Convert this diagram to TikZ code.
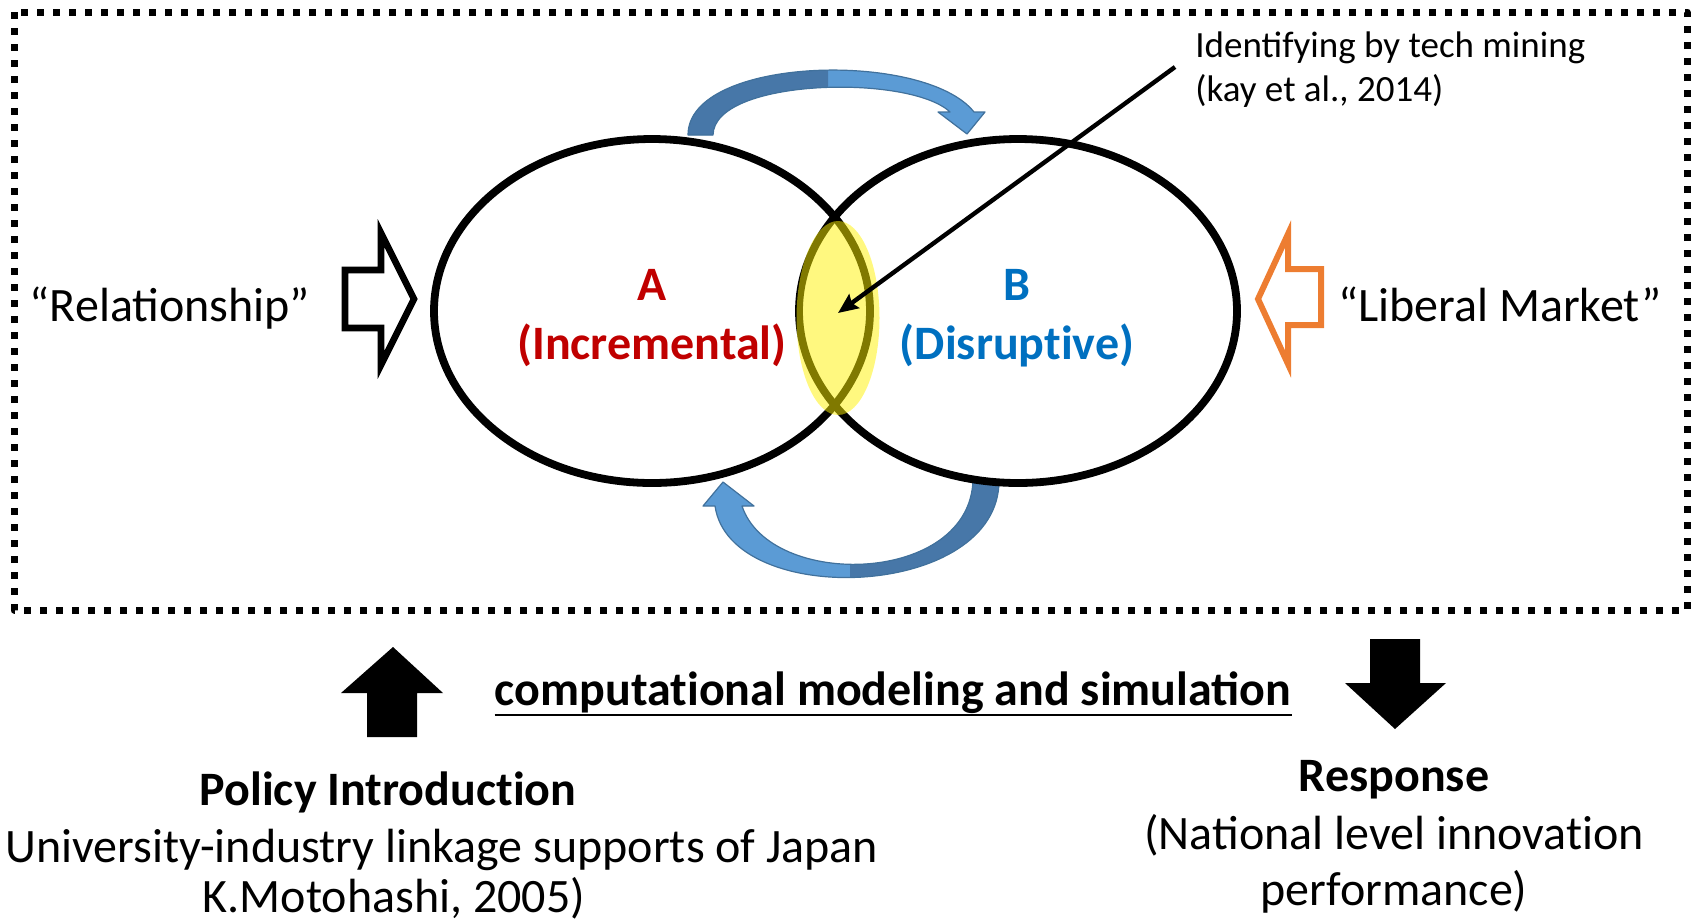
\documentclass[tikz,border=0pt]{standalone}
\usepackage{fontspec}
\setmainfont{Carlito}
\usetikzlibrary{arrows.meta}
\definecolor{incred}{HTML}{C00000}
\definecolor{disblue}{HTML}{0070C0}
\definecolor{swirl}{HTML}{5B9BD5}
\definecolor{swirldark}{HTML}{4777A8}
\definecolor{swirlline}{HTML}{41719C}
\definecolor{mkt}{HTML}{ED7D31}
% keep t and i apart (no ti ligature)
\newcommand\tisep{t\kern0pt i}

% the two curved arrows between the circles
\newcommand\upswirl{(688,135) .. controls (688,56) and (925,50) .. (974,112)
  -- (985,112) -- (967,134) -- (938,112) -- (950,112)
  .. controls (910,74) and (714,78) .. (713,135) -- cycle}
\newcommand\downswirl{(999,480) .. controls (1000,600) and (730,610) .. (715,506)
  -- (703,506) -- (723,482) -- (754,506) -- (742,506)
  .. controls (770,590) and (970,585) .. (973,480) -- cycle}

\begin{document}
\begin{tikzpicture}[line join=round, x=0.5pt, y=-0.5pt,
  big/.style={font=\fontsize{24}{28}\selectfont, inner sep=0pt, anchor=base},
  bigbf/.style={big, font=\bfseries\fontsize{24}{28}\selectfont},
  note/.style={font=\fontsize{18.5}{22}\selectfont, inner sep=0pt, align=left},
  hollow/.style={line width=3.3pt, line join=miter}]
  \useasboundingbox (0,0) rectangle (1691,923);

  % dotted frame round the two regimes
  \draw[line width=3.5pt, dash pattern=on 3.5pt off 4.5pt] (14,12) rectangle (1687,610);

  % curved arrows, darker on the rising side
  \fill[swirl] \upswirl;
  \begin{scope}
    \clip (600,40) rectangle (828,140);
    \fill[swirldark] \upswirl;
  \end{scope}
  \draw[swirlline, line width=0.6pt] \upswirl;
  \fill[swirl] \downswirl;
  \begin{scope}
    \clip (850,470) rectangle (1010,600);
    \fill[swirldark] \downswirl;
  \end{scope}
  \draw[swirlline, line width=0.6pt] \downswirl;

  % the two regimes
  \coordinate (incr) at (652,311);
  \coordinate (disr) at (1018,311);
  \draw[line width=3.9pt] (incr) ellipse (218 and 172);
  \draw[line width=3.9pt] (disr) ellipse (219 and 172);

  % overlap
  \coordinate (lens) at (838,318);
  \fill[yellow, fill opacity=0.5] (lens) ellipse (41.5 and 97);

  \node[bigbf, incred] (letterA) at (652,300) {A};
  \node[bigbf, incred] (nameA) at (652,359) {(Incremental)};
  \node[bigbf, disblue] (letterB) at (1017,300) {B};
  \node[bigbf, disblue] (nameB) at (1017,359) {(Disrup\tisep ve)};

  % side inputs
  \node[big] (rel) at (170,321) {“Relationship”};
  \node[big] (lib) at (1500,321) {“Liberal Market”};
  \draw[hollow] (345,270) -- (381,270) -- (381,233) -- (414,299)
    -- (381,365) -- (381,328) -- (345,328) -- cycle;
  \draw[hollow, mkt, line width=3pt] (1321,269) -- (1288,269) -- (1288,234)
    -- (1258,299) -- (1288,364) -- (1288,325) -- (1321,325) -- cycle;

  % tech mining note
  \node[note, anchor=north west] (mining) at (1195,31)
    {Identifying by tech mining\\(kay et al., 2014)};
  \coordinate (tail) at (1175,67);
  \draw[line width=2.2pt, -{Stealth[length=10pt, width=8.5pt, inset=1.5pt]}]
    (tail) -- ([yshift=2.5pt]lens);

  % below the frame
  \node[bigbf] (sim) at (893,705) {computa\tisep onal modeling and simulation};
  \draw[line width=1.4pt] ([yshift=-5pt]sim.base west) -- ([yshift=-5pt]sim.base east);
  \fill (367,737) -- (367,693) -- (341,693) -- (393,647) -- (443,693)
    -- (417,693) -- (417,737) -- cycle;
  \fill (1370,639) -- (1420,639) -- (1420,683) -- (1446,683) -- (1395,729)
    -- (1345,683) -- (1370,683) -- cycle;

  \node[bigbf] (policy) at (388,805) {Policy Introduc\tisep on};
  \node[big] (policyline) at (442,862) {University-industry linkage supports of Japan};
  \node[big] (policyref) at (394,912) {K.Motohashi, 2005)};
  \node[bigbf] (resp) at (1394,791) {Response};
  \node[big] (respline) at (1394,849) {(National level innova\tisep on};
  \node[big] (respref) at (1394,905) {performance)};
\end{tikzpicture}
\end{document}
